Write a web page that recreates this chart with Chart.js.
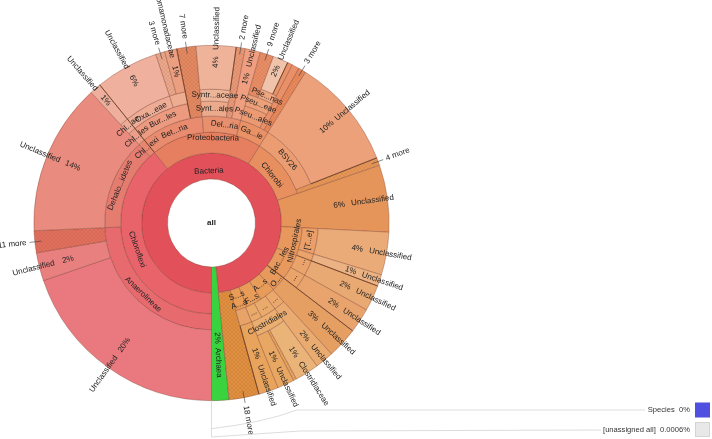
<!DOCTYPE html>
<html><head><meta charset="utf-8">
<style>html,body{margin:0;padding:0;background:#fff;overflow:hidden}canvas{display:block;filter:blur(0.35px)}</style>
<script src="https://cdn.jsdelivr.net/npm/chart.js@4"></script>
</head><body><canvas id="c" width="712" height="439"></canvas>
<script>
// Shares of the whole circle in percent, ring by ring from the centre outwards. '' = nothing in that ring.
const ring1Labels = ['Bacteria','2%|Archaea'];
const ring1Values = [98.42,1.58];
const ring2Labels = ['Chloroflexi','Proteobacteria','Chlorobi','6%|Unclassified','Nitrospirales','Bac...les','O...','A...s','F...s','S...s','|18 more',''];
const ring2Values = [39.17,19.72,10.83,6.11,5.00,4.44,2.78,2.78,2.78,2.08,2.72,1.58];
const ring3Labels = ['Anaerolineae','Dehalo...idetes','Chl...exi','Bet...ria','Del...ria','Ga...ie','BSV26','|4 more','','[T...e]','...','...','3%|Unclassified','...','...','...','A...a','',''];
const ring3Values = [24.31,13.83,1.03,9.44,5.83,4.44,10.14,0.69,6.11,3.89,3.42,2.25,2.81,1.69,2.33,1.67,1.81,2.72,1.58];
const ring4Labels = ['20%|Unclassified','2%|Unclassified','|11 more','14%|Unclassified','Chl...les','Bur...les','|7 more','Synt...ales','|2 more','1%|Unclassified','Pseu...ales','','|3 more','10%|Unclassified','','4%|Unclassified','1%|Unclassified','2%|Unclassified','2%|Unclassified','','2%|Unclassified','Clostridiales','1%|Unclassified',''];
const ring4Values = [19.75,2.56,2.00,13.83,1.03,7.69,1.75,3.61,0.83,1.39,3.06,0.69,0.69,10.14,6.81,3.89,1.06,2.36,2.25,2.81,1.69,4.00,1.81,4.31];
const ring5Labels = ['','Chl...ae','Oxa...eae','','','Syntr...aceae','','Pseu...eae','','1%|Clostridiaceae','','1%|Unclassified',''];
const ring5Values = [38.14,1.03,5.75,1.94,1.75,3.61,2.22,3.06,32.39,2.19,0.28,1.53,6.11];
const ring6Labels = ['','1%|Unclassified','6%|Unclassified','|3 more','1%|Comamonadaceae','','4%|Unclassified','','|9 more','Pse...nas',''];
const ring6Values = [38.14,1.03,5.75,0.83,1.11,1.75,3.61,2.22,1.22,1.83,42.5];
const ring7Labels = ['','2%|Unclassified','',''];
const ring7Values = [55.67,1.39,0.44,42.5];
const rankLabels = ['Species','[unassigned all]'];
const rankValues = ['0%','0.0006%'];

// Styles, separate from the values. A trailing * means a hatched (collapsed) wedge; null means empty.
const ring1Colors = ['#e2505a','#39d33f'];
const ring2Colors = ['#e8636a','#e67f5f','#e88f60','#e59559','#e8985c','#e89a5e','#e89a5c','#e89c5a','#e89c58','#e89c56','#df9040*',null];
const ring3Colors = ['#e76a6e','#e57c70','#e8876f','#e88b6e','#e88f6e','#ea9266','#eb9d71','#e59858*',null,'#ea9f68','#eaa36a','#eaa46a','#e69f62','#eaa86c','#eaaa6c','#eaaa6a','#e8a468',null,null];
const ring4Colors = ['#e9797e','#e98080','#e0705f*','#e98b7e','#ec9e88','#ec9a80','#e28a63*','#ecaa8c','#e89a78*','#ef9f80','#eb9a72','#ea9068','#e88a5c*','#eca17a',null,'#eaab78','#ebb283','#e9a973','#e8a46c',null,'#e9ab70','#eaae70','#e8a45c',null];
const ring5Colors = [null,'#eeac98','#eeac95','#eeac90',null,'#edb598',null,'#eda17a',null,'#eab378','#e8a860*','#e8a864',null];
const ring6Colors = [null,'#eeb09c','#efb19e','#eba98e*','#ec9f80',null,'#efb399',null,'#e98f68*','#eda680',null];
const ring7Colors = [null,'#f0c4aa','#e89268',null];
// Wedges with no children reach the rim.
const ringLeaves = {1:[1],2:[3,10],3:[7,12],4:[0,1,2,3,6,8,9,11,12,13,15,16,17,18,20,22],5:[9,10,11],6:[1,2,3,4,6,8],7:[]};
const ringWidths = {1:26,2:21,3:16,4:15,5:12,6:9,7:35};
// Radius of the label (or of its percent part) where it is not the middle of the ring.
const labelRadius = {'1:0':52,'1:1':115,'2:0':79,'2:1':85,'2:2':77,'2:3':129,'2:4':85,'2:5':78,'2:6':87,'2:7':79,'2:8':86,'2:9':77,
 '3:12':138,'3:16':86,'4:0':150,'4:1':148,'4:3':150,'4:9':148.5,'4:13':150,'4:15':148,'4:16':147,'4:17':147.6,'4:18':146,'4:20':146.5,'4:22':138,
 '5:2':126,'5:9':153,'5:11':147,'6:1':162,'6:2':162,'6:4':155.7,'6:6':161,'7:1':165};
const labelTurn = {'2:1':4.5,'3:4':2};
// Darker edges: [ring, wedge, inner radius]
const darkEdges = [[6,1,91],[4,5,107],[6,6,134],[3,6,107],[7,1,143],[4,16,91],[4,18,70],[4,22,107]];

const rings = {1:[ring1Labels,ring1Values,ring1Colors],2:[ring2Labels,ring2Values,ring2Colors],3:[ring3Labels,ring3Values,ring3Colors],
 4:[ring4Labels,ring4Values,ring4Colors],5:[ring5Labels,ring5Values,ring5Colors],6:[ring6Labels,ring6Values,ring6Colors],7:[ring7Labels,ring7Values,ring7Colors]};
const ctx = document.getElementById('c').getContext('2d');
function hatch(col){
  const p=document.createElement('canvas');p.width=p.height=4;const g=p.getContext('2d');
  g.fillStyle=col;g.fillRect(0,0,4,4);g.strokeStyle='rgba(150,60,20,0.2)';g.lineWidth=0.6;
  g.beginPath();g.moveTo(0,0);g.lineTo(4,4);g.moveTo(4,0);g.lineTo(0,4);g.stroke();
  return ctx.createPattern(p,'repeat');
}
function fill(c){return c===null?'transparent':(c.endsWith('*')?hatch(c.slice(0,-1)):c);}
const order=[7,6,5,4,3,2,1]; // first dataset is the outermost ring
const datasets=order.map(n=>({
  label:'ring'+n, ring:n, names:rings[n][0], data:rings[n][1],
  backgroundColor:rings[n][2].map(fill),
  borderColor:rings[n][2].map(c=>c===null?'transparent':'rgba(120,55,40,0.5)'),
  borderWidth:rings[n][2].map(c=>c===null?0:0.7),
  weight:ringWidths[n]
}));
const metaOf=(chart,n)=>chart.getDatasetMeta(order.indexOf(n));
const alphaOf=a=>{const m=((a.startAngle+a.endAngle)/2+Math.PI/2)*180/Math.PI;return ((m%360)+360)%360;};

const krona={id:'krona',
 afterDatasetsUpdate(chart){
  const R=metaOf(chart,7).controller.outerRadius;
  for(const n in ringLeaves){const m=metaOf(chart,+n);ringLeaves[n].forEach(i=>{m.data[i].outerRadius=R;});}
 },
 afterDatasetsDraw(chart){
  const c=chart.ctx,a0=metaOf(chart,1).data[0],cx=a0.x,cy=a0.y,R=metaOf(chart,7).controller.outerRadius;
  c.save();
  c.strokeStyle='rgba(95,50,25,0.8)';c.lineWidth=0.9;
  darkEdges.forEach(([n,i,r0])=>{const a=metaOf(chart,n).data[i].endAngle;
    c.beginPath();c.moveTo(cx+r0*Math.cos(a),cy+r0*Math.sin(a));c.lineTo(cx+R*Math.cos(a),cy+R*Math.sin(a));c.stroke();});
  c.font='8px "Liberation Sans"';c.fillStyle='#222';c.textBaseline='middle';
  for(let n=1;n<=7;n++){
   const m=metaOf(chart,n);
   rings[n][0].forEach((txt,i)=>{
    if(!txt)return;
    const key=n+':'+i,arc=m.data[i],al=(alphaOf(arc)+(labelTurn[key]||0)+360)%360,rad=al*Math.PI/180;
    if(txt.includes('|')){
      const [pct,name]=txt.split('|'),left=al>180,s=left?-1:1;
      c.save();c.translate(cx,cy);c.rotate((left?al+90:al-90)*Math.PI/180);
      if(pct){
        const r=labelRadius[key]||150,gap=n===1?10:(left?14:12);
        c.textAlign='center';c.fillText(pct,s*r,0);
        c.textAlign=left?'right':'left';c.fillText(name,s*(r+gap),0);
      }else{
        c.strokeStyle='rgba(60,60,60,0.8)';c.lineWidth=0.7;
        c.beginPath();c.moveTo(s*171,0);c.lineTo(s*183,0);c.stroke();
        c.textAlign=left?'right':'left';c.fillText(name,s*186,0);
      }
      c.restore();
    }else{
      const r=labelRadius[key]||(arc.innerRadius+arc.outerRadius)/2;
      const top=al<90||al>270;
      c.save();c.translate(cx+r*Math.sin(rad),cy-r*Math.cos(rad));c.rotate((top?al:al-180)*Math.PI/180);
      c.textAlign='center';c.fillText(txt,0,0);c.restore();
    }
   });
  }
  c.font='bold 8px "Liberation Sans"';c.textAlign='center';c.fillText('all',cx,cy);
  // rank key, bottom right
  c.strokeStyle='#d4d4d4';c.lineWidth=0.8;
  c.beginPath();c.moveTo(cx,cy+R);c.lineTo(cx,437);c.lineTo(300,431);c.lineTo(601,430);c.stroke();
  c.beginPath();c.moveTo(cx,cy+R+28);c.quadraticCurveTo(262,423,297,410);c.lineTo(645,410);c.stroke();
  c.font='7.6px "Liberation Sans"';c.textAlign='right';c.fillStyle='#333';
  c.fillText(rankLabels[0]+'  '+rankValues[0],690,410);
  c.fillText(rankLabels[1]+'  '+rankValues[1],690,430);
  c.fillStyle='#4f4fe0';c.fillRect(695,402.5,15,15);
  c.fillStyle='#e8e8e8';c.fillRect(695,422,15,15);
  c.strokeStyle='#cfcfcf';c.strokeRect(695.5,422.5,14,14);
  c.restore();
 }};

new Chart(ctx,{type:'doughnut',
 data:{labels:ring4Labels,datasets},
 plugins:[krona],
 options:{responsive:false,animation:false,rotation:180,cutout:44,
  layout:{padding:{left:33.5,right:322.5,top:45,bottom:38}},
  plugins:{legend:{display:false},tooltip:{enabled:false}}}
});
</script></body></html>
